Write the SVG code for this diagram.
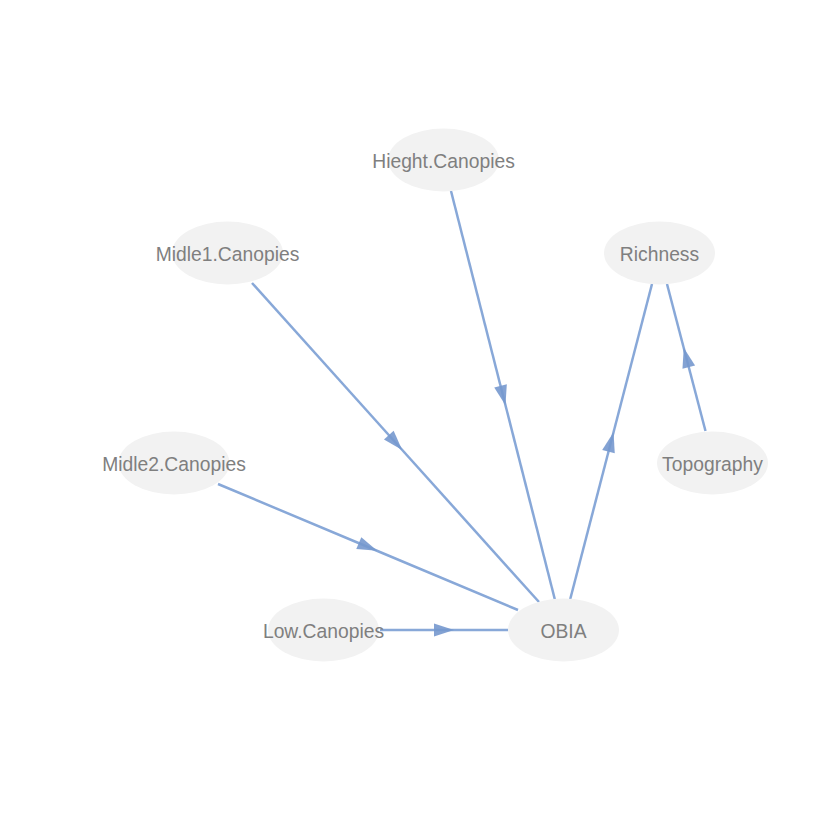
<svg xmlns="http://www.w3.org/2000/svg" width="840" height="840" viewBox="0 0 840 840">
<style>
.node ellipse{fill:#F2F2F2;stroke:none}
.node text{font-family:"Liberation Sans",Arial,sans-serif;font-size:19.3px;fill:#7F7F7F;text-anchor:middle}
.edge{fill:none;stroke:#88A8D8;stroke-width:2.5;marker-mid:url(#arr)}
</style>
<defs>
<marker id="arr" markerUnits="userSpaceOnUse" markerWidth="30" markerHeight="30" refX="0" refY="0" orient="auto" overflow="visible">
<path d="M10,0 L-10,-6.5 L-10,6.5 Z" fill="#7598CE" fill-opacity="0.9"/>
</marker>
</defs>
<rect width="840" height="840" fill="#FFFFFF"/>
<g id="edges">
<path class="edge" d="M451,191 L503,395.5 L555,600"/>
<path class="edge" d="M252,283 L395.5,442.5 L539,602"/>
<path class="edge" d="M218,484 L368,547 L518,610"/>
<path class="edge" d="M380,630 L444,630 L508,630"/>
<path class="edge" d="M570,600 L611,442 L652,284"/>
<path class="edge" d="M705.5,431 L686.25,357.5 L667,284"/>
</g>
<g id="Hieght.Canopies" class="node"><ellipse cx="443.5" cy="160" rx="55.5" ry="31.5"/><text x="443.5" y="167.5">Hieght.Canopies</text></g>
<g id="Midle1.Canopies" class="node"><ellipse cx="227.5" cy="253" rx="55.5" ry="31.5"/><text x="227.5" y="260.5">Midle1.Canopies</text></g>
<g id="Richness" class="node"><ellipse cx="659.5" cy="253" rx="55.5" ry="31.5"/><text x="659.5" y="260.5">Richness</text></g>
<g id="Midle2.Canopies" class="node"><ellipse cx="174" cy="463" rx="55.5" ry="31.5"/><text x="174" y="470.5">Midle2.Canopies</text></g>
<g id="Topography" class="node"><ellipse cx="712.5" cy="463" rx="55.5" ry="31.5"/><text x="712.5" y="470.5">Topography</text></g>
<g id="Low.Canopies" class="node"><ellipse cx="323.5" cy="630" rx="55.5" ry="31.5"/><text x="323.5" y="637.5">Low.Canopies</text></g>
<g id="OBIA" class="node"><ellipse cx="563.5" cy="630" rx="55.5" ry="31.5"/><text x="563.5" y="637.5">OBIA</text></g>
</svg>
